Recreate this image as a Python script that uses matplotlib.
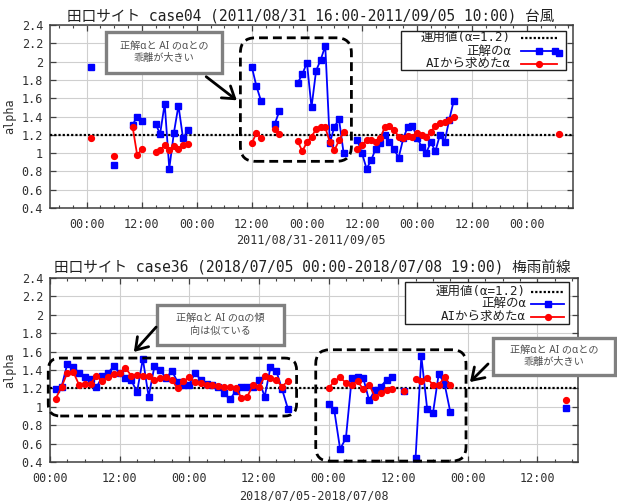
import numpy as np
import matplotlib
matplotlib.use("Agg")
import matplotlib.pyplot as plt
from matplotlib.patches import FancyBboxPatch, Rectangle, FancyArrowPatch
from matplotlib.lines import Line2D
from matplotlib.ticker import FixedLocator, FuncFormatter, MultipleLocator

nan = np.nan

# ---- case04: 2011/08/31 16:00 - 2011/09/05 10:00 (hours from start) ----
c04_title = "田口サイト case04 (2011/08/31 16:00-2011/09/05 10:00) 台風"
c04_xlabel = "2011/08/31-2011/09/05"
c04_start_hour = 16
c04_span = 114
c04_hours = [9, 14, 18, 19, 20, 23, 24, 25, 26, 27, 28, 29, 30,
             44, 45, 46, 49, 50, 54, 55, 56, 57, 58, 59, 60, 61, 62, 63, 64,
             67, 68, 69, 70, 71, 72, 73, 74, 75, 76, 77, 78, 79, 80, 81, 82,
             83, 84, 85, 86, 87, 88,
             110, 111]
c04_true = [1.94, 0.87, 1.31, 1.40, 1.35, 1.32, 1.21, 1.54, 0.83, 1.22, 1.52, 1.16, 1.25,
            1.94, 1.73, 1.57, 1.32, 1.46, 1.77, 1.86, 1.99, 1.50, 1.90, 2.02, 2.17, 1.11,
            1.29, 1.37, 1.00,
            1.14, 1.00, 0.83, 0.92, 1.05, 1.11, 1.20, 1.12, 1.04, 0.95, 1.16, 1.29, 1.30,
            1.17, 1.07, 1.00, 1.12, 1.02, 1.20, 1.12, 1.36, 1.57,
            2.12, 2.09]
c04_ai = [1.16, 0.97, 1.29, 0.98, 1.04, 1.01, 1.03, 1.09, 1.03, 1.08, 1.05, 1.09, 1.10,
          1.11, 1.22, 1.17, 1.26, 1.21, 1.13, 1.02, 1.12, 1.18, 1.26, 1.29, 1.28, 1.12,
          1.03, 1.14, 1.23,
          1.05, 1.09, 1.14, 1.14, 1.12, 1.16, 1.29, 1.30, 1.25, 1.18, 1.16, 1.19, 1.18,
          1.22, 1.20, 1.18, 1.23, 1.30, 1.33, 1.34, 1.36, 1.40,
          nan, 1.21]

# ---- case36: 2018/07/05 00:00 - 2018/07/08 19:00 (hours from start) ----
c36_title = "田口サイト case36 (2018/07/05 00:00-2018/07/08 19:00) 梅雨前線"
c36_xlabel = "2018/07/05-2018/07/08"
c36_start_hour = 0
c36_span = 91
c36_hours = list(range(1, 42)) + list(range(48, 60)) + [61] + list(range(63, 70)) + [89]
c36_true = [1.19, 1.22, 1.47, 1.43, 1.37, 1.32, 1.30, 1.21, 1.33, 1.37,
            1.44, 1.37, 1.31, 1.29, 1.16, 1.52, 1.11, 1.44, 1.40, 1.31,
            1.39, 1.27, 1.24, 1.24, 1.37, 1.29, 1.25, 1.24, 1.22, 1.15,
            1.08, 1.17, 1.21, 1.22, 1.22, 1.29, 1.11, 1.43, 1.39, 1.19,
            0.98,
            1.03, 0.96, 0.54, 0.66, 1.31, 1.32, 1.31, 1.07, 1.18, 1.22, 1.29, 1.32,
            1.17,
            0.44, 1.55, 0.98, 0.93, 1.36, 1.25, 0.94,
            0.99]
c36_ai = [1.09, 1.22, 1.37, 1.38, 1.24, 1.25, 1.25, 1.34, 1.28, 1.32,
          1.36, 1.37, 1.42, 1.34, 1.35, 1.34, 1.33, 1.29, 1.31, 1.32,
          1.29, 1.20, 1.28, 1.32, 1.27, 1.26, 1.24, 1.24, 1.23, 1.22,
          1.21, 1.20, 1.10, 1.11, 1.24, 1.21, 1.33, 1.31, 1.29, 1.22,
          1.28,
          1.20, 1.28, 1.32, 1.26, 1.24, 1.28, 1.19, 1.24, 1.11, 1.15, 1.18, 1.19,
          1.17,
          1.30, 1.28, 1.31, 1.24, 1.24, 1.32, 1.24,
          1.07]

operation_value = 1.2
legend_labels = ["運用値(α=1.2)", "正解のα", "AIから求めたα"]

MONO = ["DejaVu Sans Mono", "Noto Sans CJK JP"]
NOTE = ["Noto Sans", "Noto Sans CJK JP"]
plt.rcParams["font.family"] = MONO

W, H = 617, 501
fig = plt.figure(figsize=(W / 100, H / 100), dpi=100)


def fpx(x, y):
    """pixel position (from top-left) -> figure fraction"""
    return x / W, 1 - y / H


def with_gaps(hours, values):
    xs, ys = [], []
    prev = None
    for h, v in zip(hours, values):
        if prev is not None and h - prev > 1:
            xs.append(nan)
            ys.append(nan)
        xs.append(h)
        ys.append(v)
        prev = h
    return xs, ys


def make_axes(rect_px, start_hour, span):
    l, t, r, b = rect_px
    x0, y0 = fpx(l, b)
    ax = fig.add_axes([x0, y0, (r - l) / W, (b - t) / H])
    ax.set_xlim(0, span)
    ax.set_ylim(0.4, 2.4)
    majors = [h for h in range(span + 1) if (start_hour + h) % 12 == 0]
    minors = [h for h in range(span + 1) if (start_hour + h) % 3 == 0]
    ax.xaxis.set_major_locator(FixedLocator(majors))
    ax.xaxis.set_minor_locator(FixedLocator(minors))
    ax.xaxis.set_major_formatter(
        FuncFormatter(lambda h, _: f"{int(round(start_hour + h)) % 24:02d}:00"))
    ax.yaxis.set_major_locator(MultipleLocator(0.2))
    ax.yaxis.set_major_formatter(FuncFormatter(lambda v, _: f"{v:g}"))
    ax.tick_params(which="both", direction="in", top=True, right=True,
                   color="#404040", labelcolor="#303030", labelsize=8.5)
    ax.tick_params(which="major", length=4, width=0.9)
    ax.tick_params(which="minor", length=2.5, width=0.8)
    ax.tick_params(axis="x", pad=7)
    ax.tick_params(axis="y", pad=5)
    for s in ax.spines.values():
        s.set_color("#404040")
        s.set_linewidth(1.1)
    ax.grid(which="major", color="#cfcfcf", lw=0.8, zorder=0)
    ax.set_axisbelow(True)
    return ax


def draw_series(ax, hours, true_vals, ai_vals):
    ax.axhline(operation_value, color="black", lw=1.6, ls=(0, (1.0, 0.9)), zorder=4)
    bx, by = with_gaps(hours, true_vals)
    ax.plot(bx, by, color="#0000ff", lw=1.3, marker="s", ms=4.2, zorder=5)
    ai_h = [h for h, v in zip(hours, ai_vals) if not np.isnan(v)]
    ai_v = [v for v in ai_vals if not np.isnan(v)]
    rx, ry = with_gaps(ai_h, ai_v)
    ax.plot(rx, ry, color="#ff0000", lw=1.3, marker="o", ms=4.2, zorder=6)


def draw_legend(ax, box, text_right, line_x, rows):
    l, t, r, b = box
    x0, y0 = fpx(l, b)
    ax.add_patch(Rectangle((x0, y0), (r - l) / W, (b - t) / H, transform=fig.transFigure,
                           facecolor="white", edgecolor="#202020", lw=1.0,
                           clip_on=False, zorder=3))
    styles = [dict(color="black", lw=1.6, ls=(0, (1.0, 0.9))),
              dict(color="#0000ff", lw=1.3, marker="s", ms=4.2, markevery=[1]),
              dict(color="#ff0000", lw=1.3, marker="o", ms=4.2, markevery=[1])]
    for label, yrow, st in zip(legend_labels, rows, styles):
        tx, ty = fpx(text_right, yrow)
        ax.text(tx, ty, label, transform=fig.transFigure, ha="right", va="center",
                fontsize=9, color="#202020", zorder=3.2, clip_on=False)
        xa, ya = fpx(line_x[0], yrow)
        xb, _ = fpx(line_x[1], yrow)
        ax.add_line(Line2D([xa, (xa + xb) / 2, xb], [ya, ya, ya], transform=fig.transFigure,
                           clip_on=False, zorder=3.3, **st))


def dashed_region(ax, x0, x1, y0, y1, radius_px):
    bbox = ax.get_position()
    ax_w = bbox.width * W
    ax_h = bbox.height * H
    xr = ax.get_xlim()[1] - ax.get_xlim()[0]
    yr = ax.get_ylim()[1] - ax.get_ylim()[0]
    aspect = (yr / ax_h) / (xr / ax_w)
    rad = radius_px * xr / ax_w
    ax.add_patch(FancyBboxPatch((x0, y0), x1 - x0, y1 - y0,
                                boxstyle=f"round,pad=0,rounding_size={rad}",
                                mutation_aspect=aspect, fill=False, ec="black",
                                lw=2.0, ls=(0, (3.2, 1.8)), clip_on=False, zorder=7))


def note_box(box, text):
    l, t, r, b = box
    x0, y0 = fpx(l, b)
    fig.add_artist(Rectangle((x0, y0), (r - l) / W, (b - t) / H, transform=fig.transFigure,
                             facecolor="white", edgecolor="#808080", lw=2.4, zorder=8))
    cx, cy = fpx((l + r) / 2, (t + b) / 2)
    fig.text(cx, cy, text, ha="center", va="center", fontsize=7.3, family=NOTE,
             color="#505050", linespacing=1.15, zorder=9)


def arrow(tail, head):
    fig.add_artist(FancyArrowPatch(fpx(*tail), fpx(*head), transform=fig.transFigure,
                                   arrowstyle="->,head_length=0.45,head_width=0.3",
                                   mutation_scale=18, color="black", lw=2.0, zorder=9))


# ---------------- upper panel ----------------
ax1 = make_axes((50, 25, 573, 208), c04_start_hour, c04_span)
draw_series(ax1, c04_hours, c04_true, c04_ai)
draw_legend(ax1, (401, 31, 566, 70), 511, (521, 557), (37.7, 51.0, 63.5))
dashed_region(ax1, 41.5, 65.7, 0.91, 2.26, 15)
fig.text(*fpx(311, 16), c04_title, ha="center", va="center", fontsize=10.5, color="#202020")
fig.text(*fpx(311, 240), c04_xlabel, ha="center", va="center", fontsize=8.5, color="#303030")
fig.text(*fpx(10, 116), "alpha", ha="center", va="center", rotation=90,
         fontsize=8.5, color="#303030")
note_box((106, 32, 222, 73), "正解αと AI のαとの\n乖離が大きい")
arrow((204, 75), (239, 102))

# ---------------- lower panel ----------------
ax2 = make_axes((50, 278, 578, 462), c36_start_hour, c36_span)
draw_series(ax2, c36_hours, c36_true, c36_ai)
draw_legend(ax2, (405, 282, 569, 324), 526, (531, 564), (291.7, 303.8, 316.5))
dashed_region(ax2, -0.3, 42.5, 0.90, 1.53, 12)
dashed_region(ax2, 45.8, 71.7, 0.41, 1.62, 14)
fig.text(*fpx(312, 268), c36_title, ha="center", va="center", fontsize=10.5, color="#202020")
fig.text(*fpx(314, 496), c36_xlabel, ha="center", va="center", fontsize=8.5, color="#303030")
fig.text(*fpx(10, 370), "alpha", ha="center", va="center", rotation=90,
         fontsize=8.5, color="#303030")
note_box((157, 305, 284, 345), "正解αと AI のαの傾\n向は似ている")
arrow((158, 325), (132, 354))
note_box((493, 338, 615, 375), "正解αと AI のαとの\n乖離が大きい")
arrow((490, 362), (468, 384))

fig.savefig("out.png", dpi=100)
